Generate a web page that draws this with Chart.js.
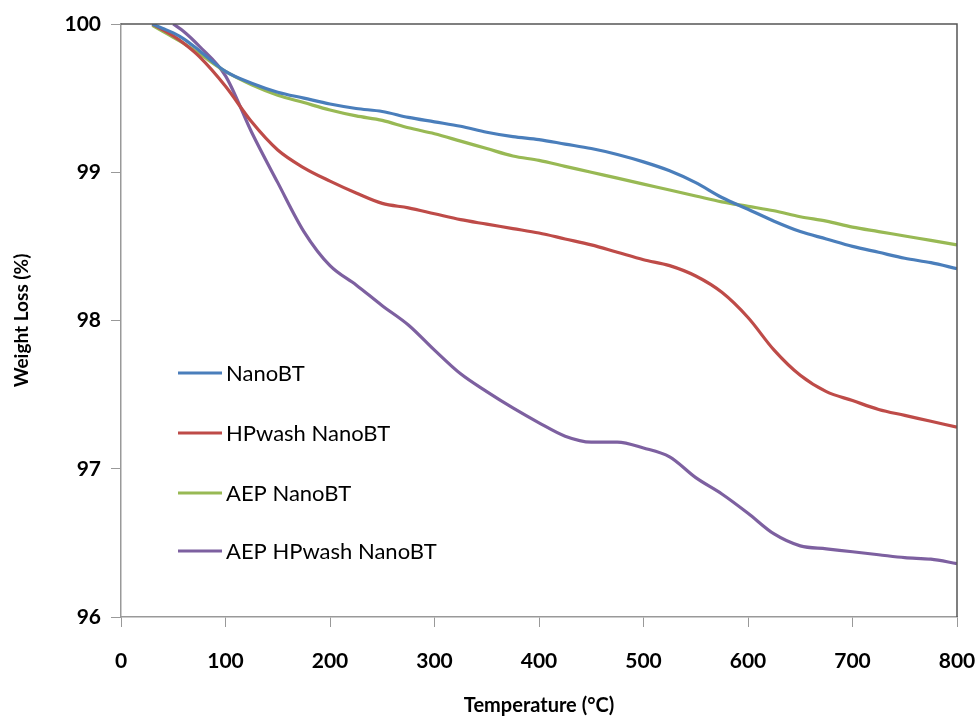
<!DOCTYPE html>
<html>
<head>
<meta charset="utf-8">
<script src="https://cdn.jsdelivr.net/npm/chart.js@4/dist/chart.umd.min.js"></script>
<style>
  html, body { margin: 0; padding: 0; background: #fff; }
  #wrap { width: 980px; height: 721px; }
</style>
</head>
<body>
<div id="wrap"><canvas id="c" width="980" height="721"></canvas></div>
<script>
// TGA 曲線：溫度 (°C) 對應重量保留 (%)，讀圖估值
const temps = [30, 40, 50, 60, 75, 100, 125, 150, 175, 200, 225, 250, 275, 300, 325, 350, 375, 400,
  425, 450, 475, 500, 525, 550, 575, 600, 625, 650, 675, 700, 725, 750, 775, 800];

const nanoBT = [100.0, 99.97, 99.94, 99.9, 99.82, 99.68, 99.6, 99.54, 99.5, 99.46, 99.43, 99.41, 99.37, 99.34,
  99.31, 99.27, 99.24, 99.22, 99.19, 99.16, 99.12, 99.07, 99.01, 98.93, 98.83, 98.75, 98.67, 98.6, 98.55,
  98.5, 98.46, 98.42, 98.39, 98.35];

const hpwash = [100.0, 99.96, 99.92, 99.87, 99.78, 99.58, 99.34, 99.15, 99.03, 98.94, 98.86, 98.79, 98.76,
  98.72, 98.68, 98.65, 98.62, 98.59, 98.55, 98.51, 98.46, 98.41, 98.37, 98.3, 98.19, 98.02, 97.8, 97.63,
  97.52, 97.46, 97.4, 97.36, 97.32, 97.28];

const aep = [99.99, 99.95, 99.91, 99.87, 99.8, 99.68, 99.59, 99.52, 99.47, 99.42, 99.38, 99.35, 99.3, 99.26,
  99.21, 99.16, 99.11, 99.08, 99.04, 99.0, 98.96, 98.92, 98.88, 98.84, 98.8, 98.77, 98.74, 98.7, 98.67,
  98.63, 98.6, 98.57, 98.54, 98.51];

const aepHpwash = [null, null, 100.0, 99.95, 99.85, 99.65, 99.27, 98.93, 98.6, 98.37, 98.24, 98.1, 97.97,
  97.8, 97.64, 97.52, 97.41, 97.31, 97.22, 97.18, 97.18, 97.14, 97.08, 96.94, 96.83, 96.7, 96.56, 96.48,
  96.46, 96.44, 96.42, 96.4, 96.39, 96.36];

const seriesNames = ['NanoBT', 'HPwash NanoBT', 'AEP NanoBT', 'AEP HPwash NanoBT'];
const seriesColors = ['#4A7EBB', '#BE4B48', '#98B954', '#7D60A0'];
const xTicks = [0, 100, 200, 300, 400, 500, 600, 700, 800];
const yTicks = [96, 97, 98, 99, 100];

const FONT = 'Lato, "Open Sans", sans-serif';

function pts(vals) {
  return temps.map((t, i) => ({ x: t, y: vals[i] })).filter((p) => p.y != null);
}

// 圖框上/右邊線 + 圖內圖例
const framePlugin = {
  id: 'frame',
  afterDatasetsDraw(chart) {
    const { ctx, chartArea: a } = chart;
    ctx.save();
    ctx.strokeStyle = '#555';
    ctx.lineWidth = 1.5;
    ctx.beginPath();
    ctx.moveTo(a.left, a.top);
    ctx.lineTo(a.right, a.top);
    ctx.lineTo(a.right, a.bottom);
    ctx.stroke();

    const rows = [373, 433, 493, 551];
    ctx.font = '22px ' + FONT;
    ctx.textBaseline = 'middle';
    chart.data.datasets.forEach((ds, i) => {
      ctx.strokeStyle = ds.borderColor;
      ctx.lineWidth = 3;
      ctx.beginPath();
      ctx.moveTo(178, rows[i]);
      ctx.lineTo(222, rows[i]);
      ctx.stroke();
      ctx.fillStyle = '#000';
      ctx.fillText(ds.label, 226, rows[i] + 1);
    });
    ctx.restore();
  },
};

const datasets = [nanoBT, hpwash, aep, aepHpwash].map((vals, i) => ({
  label: seriesNames[i],
  data: pts(vals),
  borderColor: seriesColors[i],
  backgroundColor: seriesColors[i],
  borderWidth: 3.2,
  pointRadius: 0,
  cubicInterpolationMode: 'monotone',
}));

new Chart(document.getElementById('c'), {
  type: 'line',
  data: { datasets },
  plugins: [framePlugin],
  options: {
    responsive: false,
    animation: false,
    layout: { padding: { top: 24, right: 23, left: 0, bottom: 0 } },
    plugins: { legend: { display: false }, tooltip: { enabled: false } },
    scales: {
      x: {
        type: 'linear', min: 0, max: 800,
        afterBuildTicks: (s) => { s.ticks = xTicks.map((v) => ({ value: v })); },
        afterFit: (s) => { s.height = 104; s.paddingLeft = 0; s.paddingRight = 0; },
        grid: { drawOnChartArea: false, tickLength: 10, color: '#999' },
        border: { color: '#999', width: 1.5 },
        ticks: { color: '#000', padding: 22, font: { family: FONT, size: 21, weight: 'bold' } },
        title: { display: true, text: 'Temperature (°C)', color: '#000', padding: { top: 4, bottom: 3 },
          font: { family: FONT, size: 20, weight: 'bold' } },
      },
      y: {
        min: 96, max: 100,
        afterBuildTicks: (s) => { s.ticks = yTicks.map((v) => ({ value: v })); },
        afterFit: (s) => { s.width = 121; s.paddingTop = 0; s.paddingBottom = 0; },
        grid: { drawOnChartArea: false, tickLength: 10, color: '#999' },
        border: { color: '#999', width: 1.5 },
        ticks: { color: '#000', padding: 10, font: { family: FONT, size: 21, weight: 'bold' } },
        title: { display: true, text: 'Weight Loss (%)', color: '#000', padding: { top: 10, bottom: 4 },
          font: { family: FONT, size: 19, weight: 'bold' } },
      },
    },
  },
});
</script>
</body>
</html>
